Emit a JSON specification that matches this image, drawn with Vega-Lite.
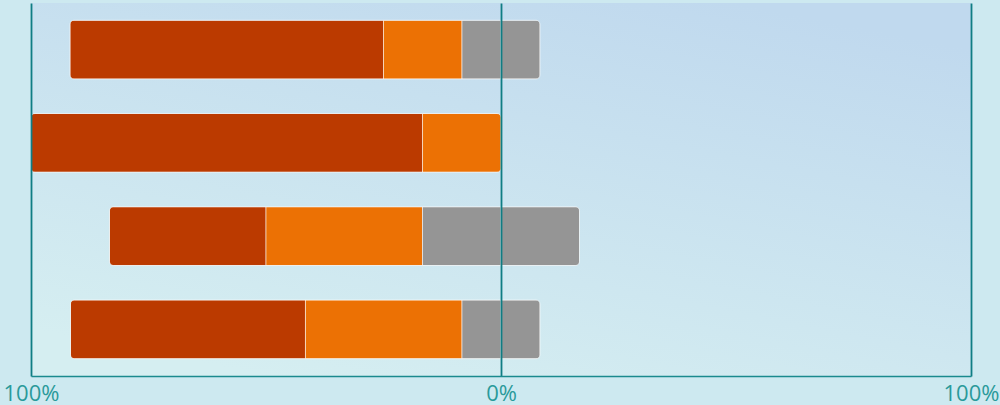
{
  "$schema": "https://vega.github.io/schema/vega-lite/v6.json",
  "width": 940,
  "height": 373,
  "autosize": {"type": "none"},
  "padding": {"left": 31, "top": 3, "right": 29, "bottom": 29},
  "background": "#cde9f0",
  "config": {"view": {"stroke": null}},
  "layer": [
    {
      "data": {"values": [{}]},
      "mark": {
        "type": "rect",
        "color": {
          "gradient": "linear",
          "x1": 0.75, "y1": 0, "x2": 0.25, "y2": 1,
          "stops": [
            {"offset": 0, "color": "#c0d9ee"},
            {"offset": 1, "color": "#d5eef1"}
          ]
        }
      },
      "encoding": {}
    },
    {
      "data": {
        "values": [
          {"question": "Q1", "category": "Strongly disagree", "value": -66.7, "rank": 2},
          {"question": "Q1", "category": "Disagree", "value": -16.7, "rank": 1},
          {"question": "Q1", "category": "Neutral", "value": -8.3, "rank": 0},
          {"question": "Q1", "category": "Neutral", "value": 8.3, "rank": 3},
          {"question": "Q2", "category": "Strongly disagree", "value": -83.3, "rank": 2},
          {"question": "Q2", "category": "Disagree", "value": -16.7, "rank": 1},
          {"question": "Q3", "category": "Strongly disagree", "value": -33.3, "rank": 2},
          {"question": "Q3", "category": "Disagree", "value": -33.3, "rank": 1},
          {"question": "Q3", "category": "Neutral", "value": -16.7, "rank": 0},
          {"question": "Q3", "category": "Neutral", "value": 16.7, "rank": 3},
          {"question": "Q4", "category": "Strongly disagree", "value": -50, "rank": 2},
          {"question": "Q4", "category": "Disagree", "value": -33.3, "rank": 1},
          {"question": "Q4", "category": "Neutral", "value": -8.3, "rank": 0},
          {"question": "Q4", "category": "Neutral", "value": 8.3, "rank": 3}
        ]
      },
      "mark": {"type": "bar", "cornerRadius": 4, "stroke": "#ffffff", "strokeWidth": 1, "strokeOpacity": 0.55},
      "encoding": {
        "y": {
          "field": "question",
          "type": "nominal",
          "sort": ["Q1", "Q2", "Q3", "Q4"],
          "axis": null,
          "scale": {"paddingInner": 0.37, "paddingOuter": 0.185}
        },
        "x": {
          "field": "value",
          "type": "quantitative",
          "stack": "zero",
          "scale": {"domain": [-100, 100], "nice": false, "zero": false},
          "axis": {
            "values": [-100, 0, 100],
            "title": null,
            "grid": true,
            "gridColor": "#0f7d84",
            "gridWidth": 1.8,
            "gridOpacity": 1,
            "domain": true,
            "domainColor": "#1a8a8e",
            "domainWidth": 1.5,
            "ticks": false,
            "labelExpr": "abs(datum.value) + '%'",
            "labelFont": "Open Sans",
            "labelFontSize": 22,
            "labelColor": "#2a9a9a",
            "labelPadding": 7,
            "labelFlush": false,
            "labelOverlap": false,
            "zindex": 1
          }
        },
        "order": {"field": "rank", "type": "quantitative"},
        "color": {
          "field": "category",
          "type": "nominal",
          "scale": {
            "domain": ["Strongly disagree", "Disagree", "Neutral"],
            "range": ["#bb3a00", "#ec7104", "#959595"]
          },
          "legend": null
        }
      }
    }
  ]
}
